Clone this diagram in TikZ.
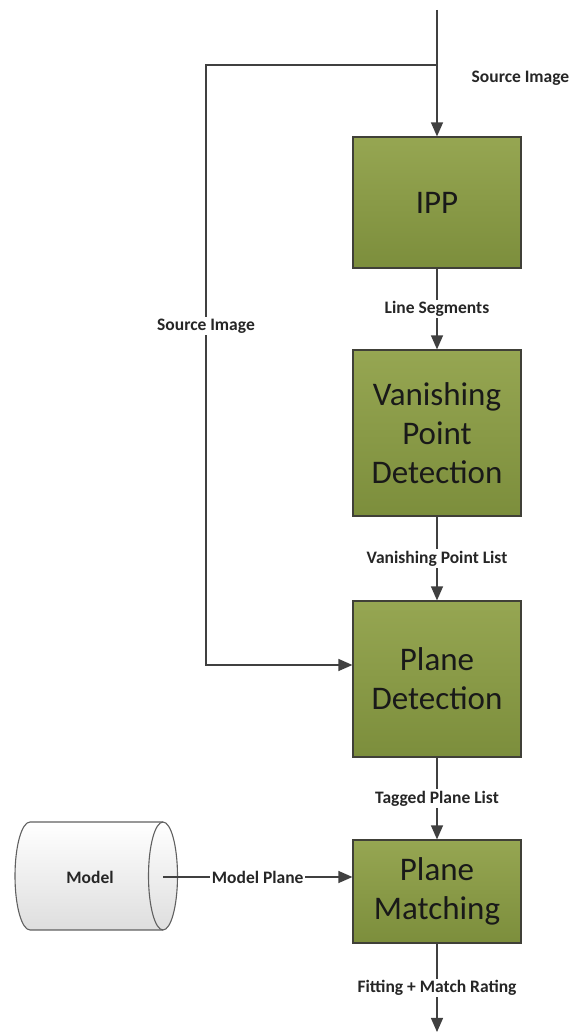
\documentclass[tikz,border=0pt]{standalone}
\usepackage{fontspec}
\setmainfont{Carlito}
\usetikzlibrary{arrows.meta,calc}
\definecolor{olivetop}{RGB}{150,166,82}
\definecolor{olivebot}{RGB}{124,142,60}
\definecolor{edgegray}{RGB}{64,64,56}
\definecolor{wire}{RGB}{64,64,64}
\definecolor{drumgray}{RGB}{96,96,96}
\definecolor{drumbot}{RGB}{222,222,222}
\tikzset{
  stage/.style={draw=edgegray, line width=1.2pt, top color=olivetop, bottom color=olivebot,
    minimum width=168pt, inner sep=0pt, align=center,
    font=\fontsize{33}{39}\selectfont, text=black!90},
  flow/.style={draw=wire, line width=1.3pt, -{Triangle[length=14pt,width=12pt]}},
  wireline/.style={draw=wire, line width=1.3pt},
  tag/.style={font=\bfseries\fontsize{17.5}{20}\selectfont, text=black!85, fill=white, inner sep=1.5pt},
}
\begin{document}
\begin{tikzpicture}[x=1pt,y=1pt]
  \useasboundingbox (0,0) rectangle (577,1034);

  % processing stages
  \node[stage, minimum height=131pt] (ipp) at (437,831.5) {IPP};
  \node[stage, minimum height=166pt] (vpd) at (437,601) {Vanishing\\Point\\Detection};
  \node[stage, minimum height=156pt] (pd)  at (437,355) {Plane\\Detection};
  \node[stage, minimum height=103pt] (pm)  at (437,142.5) {Plane\\Matching};

  % model store (horizontal drum)
  \path[draw=drumgray, line width=1.1pt, top color=white, bottom color=drumbot]
    (30,212) -- (163,212)
    arc[start angle=90, end angle=-90, x radius=14.5, y radius=54]
    -- (30,104)
    arc[start angle=270, end angle=90, x radius=15, y radius=54] -- cycle;
  \draw[drumgray, line width=1.1pt]
    (163,212) arc[start angle=90, end angle=270, x radius=14.5, y radius=54];
  \node[tag, fill=none] (model) at (90,157) {Model};
  \coordinate (mend) at (163,157);

  % input and feedback routing
  \coordinate (top) at (437,1024);
  \coordinate (split) at (437,969);
  \coordinate (lc1) at (206,969);
  \coordinate (lc2) at (206,369);
  \coordinate (out) at (437,2);

  \draw[flow] (top) -- (ipp.north);
  \node[tag, anchor=west] (srclbl) at (470,956) {Source Image};
  \draw[flow] (split) -- (lc1) -- node[tag, pos=0.435] {Source Image} (lc2) -- (pd.west |- lc2);

  % stage-to-stage connectors
  \draw[flow] (ipp.south) -- node[tag] {Line Segments} (vpd.north);
  \draw[flow] (vpd.south) -- node[tag] {Vanishing Point List} (pd.north);
  \draw[flow] (pd.south) -- node[tag] {Tagged Plane List} (pm.north);
  \draw[flow] (mend) -- node[tag] {Model Plane} (pm.west |- mend);
  \draw[flow] (pm.south) -- node[tag] {Fitting + Match Rating} (out);
\end{tikzpicture}
\end{document}
